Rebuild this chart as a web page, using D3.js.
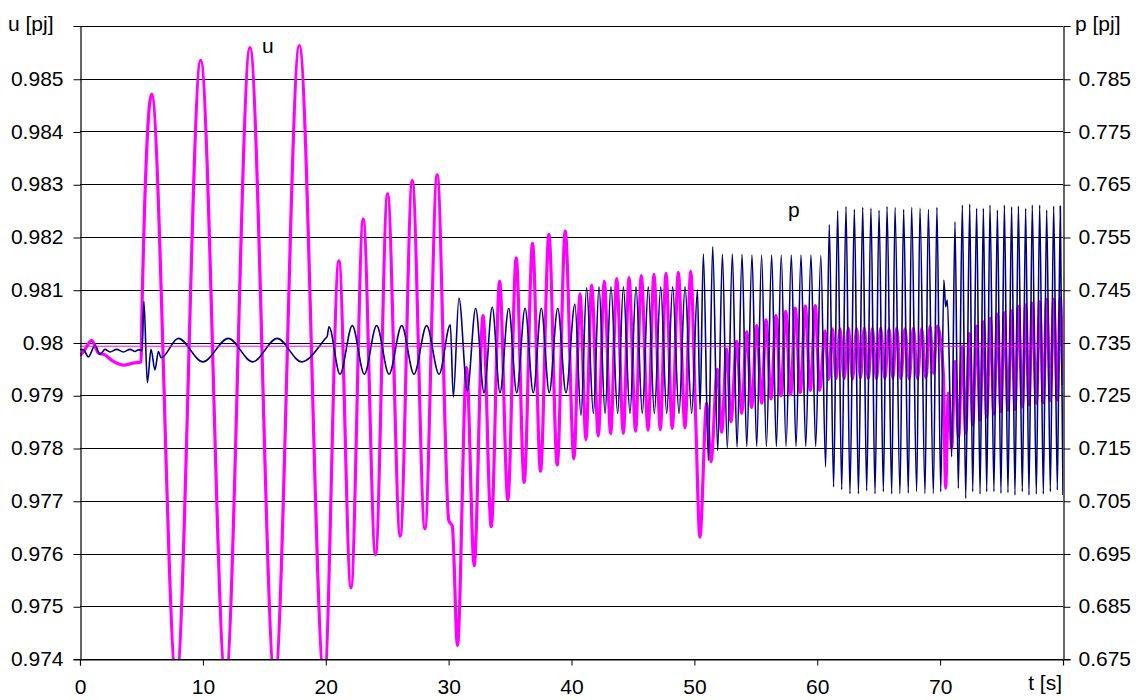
<!DOCTYPE html>
<html><head><meta charset="utf-8">
<script src="https://cdn.jsdelivr.net/npm/d3@7/dist/d3.min.js"></script>
<style>
html,body{margin:0;padding:0;background:#fff;}
svg text{font-family:"Liberation Sans",Arial,sans-serif;fill:#000;}
</style></head>
<body><svg id="c" width="1142" height="700"></svg>
<script>
// ---- data: [t (s), value] (extrema and turning points) ----
const xTicks = [0,10,20,30,40,50,60,70];
const uTicks = [0.974,0.975,0.976,0.977,0.978,0.979,0.98,0.981,0.982,0.983,0.984,0.985];
const pTicks = [0.675,0.685,0.695,0.705,0.715,0.725,0.735,0.745,0.755,0.765,0.775,0.785];

const uRef = [[0,0.97993],[78.1,0.97993]];

const uSeg0 = [[0,0.97975],[0.35,0.97985],[0.95,0.98004],[1.5,0.9798],[2.0,0.97977],[2.65,0.97965],[3.6,0.97957],[4.3,0.97961],[4.97,0.97963],[5.05,0.9807]];
const uSeg1 = [[5.83,0.98471],[7.84,0.9736],[9.82,0.98535],[11.85,0.9736],[13.83,0.98559],[15.85,0.9736],[17.85,0.98563],[19.88,0.9736]];
const uSeg2 = [[21.07,0.98155],[22.05,0.97535],[23.05,0.98234],[24.05,0.97598],[25.03,0.98282],[26.06,0.97633],[27.04,0.98307],[28.07,0.97647],[29.07,0.98318],[30.02,0.97662],[30.3,0.97652]];
const uSeg3 = [[30.72,0.97426],[31.46,0.97953],[32.08,0.97577],[32.8,0.98051],[33.47,0.97651],[34.15,0.98116],[34.82,0.97702],[35.5,0.9816],[36.15,0.97735],[36.83,0.98188],[37.48,0.97756],[38.16,0.98205],[38.84,0.97768],[39.49,0.98211],[40.2,0.9778]];
const uSeg4 = [[40.69,0.98092],[41.18,0.97816],[41.64,0.98109],[42.18,0.97823],[42.67,0.98116],[43.19,0.97827],[43.68,0.98121],[44.22,0.97828],[44.68,0.98123],[45.22,0.97832],[45.68,0.98127],[46.23,0.97834],[46.71,0.98129],[47.23,0.97835],[47.69,0.98131],[48.2,0.97837],[48.69,0.98133],[49.24,0.97838],[49.7,0.98135],[50.1,0.97862],[50.45,0.97631]];
const uSeg5 = [[51.0,0.97885],[51.35,0.97774],[51.87,0.97949],[52.22,0.9783],[52.63,0.97987],[52.98,0.9785],[53.44,0.98002],[53.85,0.97866],[54.26,0.9802],[54.66,0.97877],[55.07,0.98032],[55.48,0.97885],[55.83,0.98043],[56.24,0.97893],[56.64,0.98051],[57.05,0.97899],[57.43,0.98059],[57.84,0.97901],[58.21,0.98065],[58.62,0.97905],[59.03,0.98069],[59.44,0.97909],[59.84,0.9807],[60.2,0.97909]];
const uSeg6 = [[60.63,0.98022],[60.93,0.9793],[61.23,0.98026],[61.54,0.97932],[61.85,0.98026],[62.19,0.97932],[62.53,0.98027],[62.87,0.97931],[63.21,0.98026],[63.52,0.97933],[63.83,0.98027],[64.15,0.97932],[64.48,0.98026],[64.82,0.97931],[65.16,0.98027],[65.5,0.97932],[65.84,0.98026],[66.15,0.97933],[66.46,0.98027],[66.8,0.97932],[67.14,0.98026],[67.48,0.97931],[67.82,0.98027],[68.16,0.97932],[68.5,0.98026],[68.84,0.97933],[69.18,0.9803],[69.45,0.97942],[69.77,0.98031],[70.26,0.97942],[70.45,0.97724]];
const uSeg7 = [[70.67,0.97904],[70.94,0.978],[71.21,0.97964],[71.5,0.97821],[71.81,0.97992],[72.08,0.97828],[72.38,0.98017],[72.65,0.97844],[72.97,0.98031],[73.25,0.97853],[73.52,0.98039],[73.79,0.97859],[74.09,0.98046],[74.38,0.97864],[74.66,0.98054],[74.95,0.97869],[75.23,0.98056],[75.52,0.97872],[75.82,0.9806],[76.09,0.97873],[76.37,0.98068],[76.69,0.97878],[76.96,0.98071],[77.23,0.97882],[77.5,0.98074],[77.83,0.97885],[78.1,0.98077],[78.4,0.97886],[78.67,0.98082],[78.97,0.9789],[79.24,0.98082],[79.54,0.97891],[79.78,0.98084],[80,0.9792]];

const pSeg0 = [[0,0.7337],[0.3,0.7336],[0.68,0.73227],[1.22,0.73445],[1.63,0.73273],[2.03,0.7337],[2.44,0.7332],[2.98,0.7337],[3.53,0.7332],[4.07,0.7337],[4.48,0.7333],[4.75,0.7336],[5.05,0.7335],[5.2,0.7428],[5.48,0.7274],[5.78,0.7337],[6.1,0.7298],[6.38,0.7333],[6.6,0.7321]];
const pSeg1 = [[8.0,0.73578],[10.0,0.73133],[12.07,0.73578],[14.05,0.73133],[16.05,0.73578],[18.03,0.73133],[19.95,0.7357],[20.12,0.7362],[20.26,0.738]];
const pSeg2 = [[21.16,0.72898],[22.16,0.7382],[23.14,0.72898],[24.14,0.7382],[25.15,0.72898],[26.18,0.7382],[27.18,0.72898],[28.21,0.7382],[29.22,0.72898],[30.14,0.73836],[30.38,0.72469]];
const pSeg3 = [[30.84,0.74344],[31.52,0.72586],[32.2,0.74148],[32.88,0.72547],[33.55,0.74172],[34.18,0.72547],[34.89,0.74148],[35.54,0.72547],[36.22,0.74148],[36.89,0.72547],[37.54,0.74148],[38.19,0.72547],[38.88,0.74148],[39.55,0.72547],[40.28,0.74227],[40.77,0.72117]];
const pSeg4 = [[41.23,0.74539],[41.78,0.72156],[42.24,0.74555],[42.73,0.72156],[43.21,0.74555],[43.76,0.72156],[44.22,0.74555],[44.76,0.72156],[45.25,0.74555],[45.76,0.72156],[46.25,0.74555],[46.74,0.72156],[47.26,0.74555],[47.75,0.72156],[48.23,0.74555],[48.75,0.72156],[49.24,0.74555],[49.78,0.72156],[50.25,0.745],[50.46,0.7223]];
const pSeg5 = [[50.73,0.7518],[51.14,0.71258],[51.49,0.7532],[51.9,0.71453],[52.28,0.7517],[52.68,0.71492],[53.09,0.7518],[53.47,0.71516],[53.88,0.7517],[54.26,0.71531],[54.69,0.7516],[55.07,0.71531],[55.47,0.7516],[55.86,0.71531],[56.29,0.7516],[56.67,0.71531],[57.07,0.7516],[57.46,0.71531],[57.89,0.7516],[58.27,0.71531],[58.68,0.7516],[59.06,0.71531],[59.49,0.7516],[59.87,0.71531],[60.29,0.7515]];
const pSeg6 = [[60.68,0.71141],[60.98,0.75734],[61.33,0.70766],[61.66,0.76],[61.99,0.70711],[62.34,0.76078],[62.66,0.70633],[63.02,0.76023],[63.35,0.70633],[63.7,0.76063],[64.02,0.70688],[64.37,0.76047],[64.7,0.70633],[65.03,0.76008],[65.38,0.70672],[65.68,0.76078],[66.06,0.70633],[66.33,0.76063],[66.73,0.70633],[67.03,0.76023],[67.41,0.70648],[67.68,0.76063],[68.09,0.70672],[68.36,0.76047],[68.77,0.70633],[69.04,0.76023],[69.45,0.70633],[69.74,0.76063],[70.05,0.7067],[70.3,0.74685],[70.45,0.74179],[70.59,0.74306],[70.94,0.71335]];
const pSeg7 = [[71.21,0.7579],[71.48,0.70736],[71.81,0.76107],[72.08,0.70546],[72.41,0.76126],[72.65,0.70672],[72.97,0.76044],[73.25,0.70628],[73.52,0.76044],[73.79,0.70672],[74.06,0.76107],[74.38,0.70672],[74.66,0.76012],[74.95,0.70641],[75.23,0.76107],[75.52,0.70653],[75.82,0.76075],[76.09,0.70609],[76.37,0.76088],[76.69,0.70672],[76.96,0.76044],[77.23,0.70609],[77.5,0.76107],[77.83,0.70628],[78.1,0.76107],[78.4,0.70628],[78.67,0.76012],[78.97,0.70672],[79.24,0.76088],[79.54,0.70704],[79.78,0.76088],[80,0.7061]];

const uData = [].concat(uSeg0,uSeg1,uSeg2,uSeg3,uSeg4,uSeg5,uSeg6,uSeg7);
const pData = [].concat(pSeg0,pSeg1,pSeg2,pSeg3,pSeg4,pSeg5,pSeg6,pSeg7);

// ---- layout ----
const L = 80, R = 1063, T = 26, B = 659;
const svg = d3.select("#c");
const x = d3.scaleLinear().domain([0,80]).range([L,R]);
const yU = d3.scaleLinear().domain([0.974,0.986]).range([B,T]);
const yP = d3.scaleLinear().domain([0.675,0.795]).range([B,T]);

// gridlines
const gridVals = d3.range(0,13).map(i => 0.974 + i*0.001);
svg.append("g").selectAll("line").data(gridVals).join("line")
  .attr("x1",L).attr("x2",R)
  .attr("y1",d=>Math.round(yU(d))+0.5).attr("y2",d=>Math.round(yU(d))+0.5)
  .attr("stroke","#000").attr("stroke-width",1);

// data lines
svg.append("clipPath").attr("id","clip").append("rect")
  .attr("x",L).attr("y",T).attr("width",R-L).attr("height",B-T);
const plot = svg.append("g").attr("clip-path","url(#clip)");
const lineU = d3.line().x(d=>x(d[0])).y(d=>yU(d[1])).curve(d3.curveMonotoneX);
const lineP = d3.line().x(d=>x(d[0])).y(d=>yP(d[1])).curve(d3.curveMonotoneX);
plot.append("path").datum(uData).attr("d",lineU)
  .attr("fill","none").attr("stroke","#ff00ff").attr("stroke-width",3.2).attr("stroke-linejoin","round");
plot.append("path").datum(pData).attr("d",lineP)
  .attr("fill","none").attr("stroke","#000080").attr("stroke-width",1.6).attr("stroke-linejoin","round");
plot.append("path").datum(uRef).attr("d",d3.line().x(d=>x(d[0])).y(d=>yU(d[1])))
  .attr("fill","none").attr("stroke","#ff00ff").attr("stroke-width",1);

// axes
const fmtU = v => String(+v.toFixed(3));
const axL = svg.append("g").attr("transform",`translate(${L+0.5},0)`)
  .call(d3.axisLeft(yU).tickValues(uTicks).tickFormat(fmtU).tickSize(7).tickPadding(10));
const axR = svg.append("g").attr("transform",`translate(${R+0.5},0)`)
  .call(d3.axisRight(yP).tickValues(pTicks).tickFormat(d3.format(".3f")).tickSize(7).tickPadding(8));
const axB = svg.append("g").attr("transform",`translate(0,${B+0.5})`)
  .call(d3.axisBottom(x).tickValues(xTicks).tickFormat(d3.format("d")).tickSize(6).tickPadding(14));
[axL,axR,axB].forEach(a=>{
  a.select(".domain").attr("stroke","#000").attr("stroke-width",1.2);
  a.selectAll(".tick line").attr("stroke","#000");
  a.selectAll("text").attr("font-size",21).attr("font-family","Liberation Sans, Arial, sans-serif").attr("fill","#000");
});
axL.selectAll(".tick line").attr("transform","translate(0,0.5)");
axR.selectAll(".tick line").attr("transform","translate(0,0.5)");

// titles and labels
svg.append("text").attr("x",8).attr("y",31).attr("font-size",21).text("u [pj]");
svg.append("text").attr("x",1075).attr("y",31).attr("font-size",21).text("p [pj]");
svg.append("text").attr("x",1062).attr("y",690).attr("text-anchor","end").attr("font-size",21).text("t [s]");
svg.append("text").attr("x",262).attr("y",53).attr("font-size",21).text("u");
svg.append("text").attr("x",788).attr("y",217).attr("font-size",21).text("p");
</script></body></html>
